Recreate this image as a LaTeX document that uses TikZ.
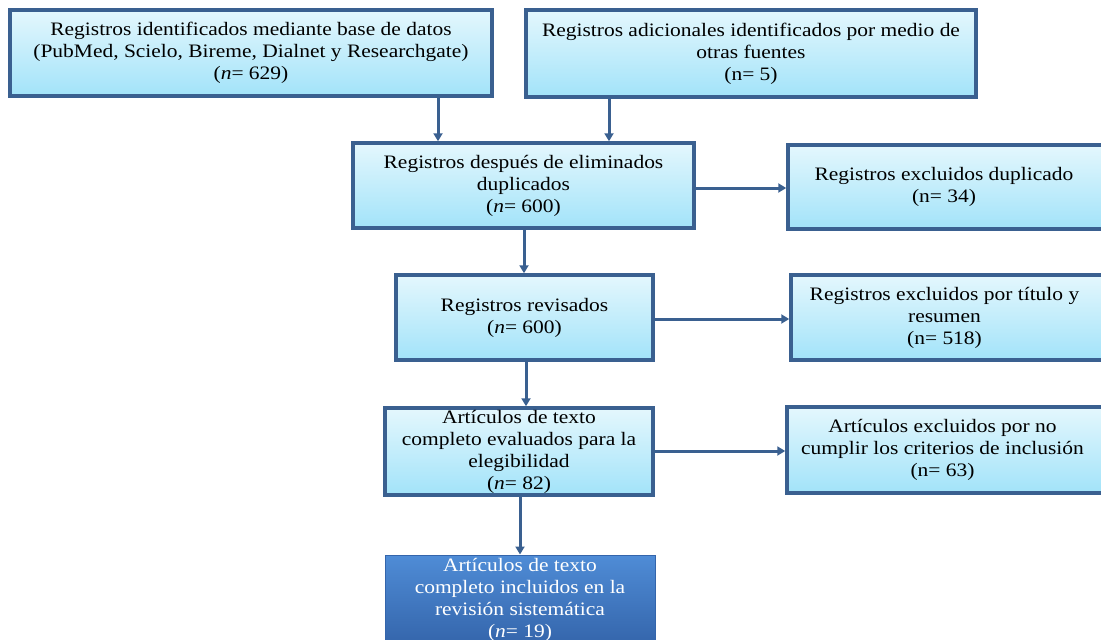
\documentclass[tikz,border=0pt]{standalone}
\usepackage{fontspec}
\setmainfont{Liberation Serif}[FakeStretch=1.13]
\usetikzlibrary{arrows.meta}
\definecolor{bord}{HTML}{3A6090}
\definecolor{ftop}{HTML}{E4F7FD}
\definecolor{fbot}{HTML}{A2E3F9}
\definecolor{dtop}{HTML}{4F8CD6}
\definecolor{dbot}{HTML}{3465AB}
\tikzset{
  box/.style={draw=bord, line width=3.5pt, top color=ftop, bottom color=fbot,
    align=center, inner sep=0pt, font=\fontsize{19}{22}\selectfont},
  finalbox/.style={draw=dbot, line width=1pt, top color=dtop, bottom color=dbot,
    text=white, align=center, inner sep=0pt, font=\fontsize{19}{22}\selectfont},
  arr/.style={draw=bord, line width=3pt, -{Triangle[length=8pt,width=9pt]}},
}
\begin{document}
\begin{tikzpicture}[x=1pt,y=-1pt]
\useasboundingbox (0,0) rectangle (1101,640);
\node[box, minimum width=482, minimum height=86] (b1) at (251,53)
  {Registros identificados mediante base de datos\\(PubMed, Scielo, Bireme, Dialnet y Researchgate)\\(\textit{n}= 629)};
\node[box, minimum width=450, minimum height=87] (b2) at (751,53.5)
  {Registros adicionales identificados por medio de\\otras fuentes\\(n= 5)};
\node[box, minimum width=341, minimum height=85] (b3) at (523.5,185.5)
  {Registros después de eliminados\\duplicados\\(\textit{n}= 600)};
\node[box, minimum width=316, minimum height=84] (b4) at (946,187)
  {\hspace*{-4pt}Registros excluidos duplicado\\\hspace*{-4pt}(n= 34)};
\node[box, minimum width=257, minimum height=85] (b5) at (524.5,317.5)
  {Registros revisados\\(\textit{n}= 600)};
\node[box, minimum width=313, minimum height=85] (b6) at (947.5,317.5)
  {\hspace*{-6pt}Registros excluidos por título y\\\hspace*{-6pt}resumen\\\hspace*{-6pt}(n= 518)};
\node[box, minimum width=268, minimum height=87] (b7) at (519,451.5)
  {Artículos de texto\\completo evaluados para la\\elegibilidad\\(\textit{n}= 82)};
\node[box, minimum width=317, minimum height=86] (b8) at (945.5,450)
  {\hspace*{-6pt}Artículos excluidos por no\\\hspace*{-6pt}cumplir los criterios de inclusión\\\hspace*{-6pt}(n= 63)};
\node[finalbox, minimum width=270, minimum height=90] (b9) at (520,600)
  {Artículos de texto\\completo incluidos en la\\revisión sistemática\\(\textit{n}= 19)};
\coordinate (x1) at (438,0);
\coordinate (x2) at (609,0);
\coordinate (x3) at (524,0);
\coordinate (x4) at (526,0);
\coordinate (y1) at (0,188);
\coordinate (y2) at (0,319);
\coordinate (y3) at (0,451);
\draw[arr] (b1.south -| x1) -- (b3.north -| x1);
\draw[arr] (b2.south -| x2) -- (b3.north -| x2);
\draw[arr] (b3.south -| x3) -- (b5.north -| x3);
\draw[arr] (b5.south -| x4) -- (b7.north -| x4);
\draw[arr] (b7.south -| b9.north) -- (b9.north);
\draw[arr] (b3.east |- y1) -- (b4.west |- y1);
\draw[arr] (b5.east |- y2) -- (b6.west |- y2);
\draw[arr] (b7.east |- y3) -- (b8.west |- y3);
\end{tikzpicture}
\end{document}
